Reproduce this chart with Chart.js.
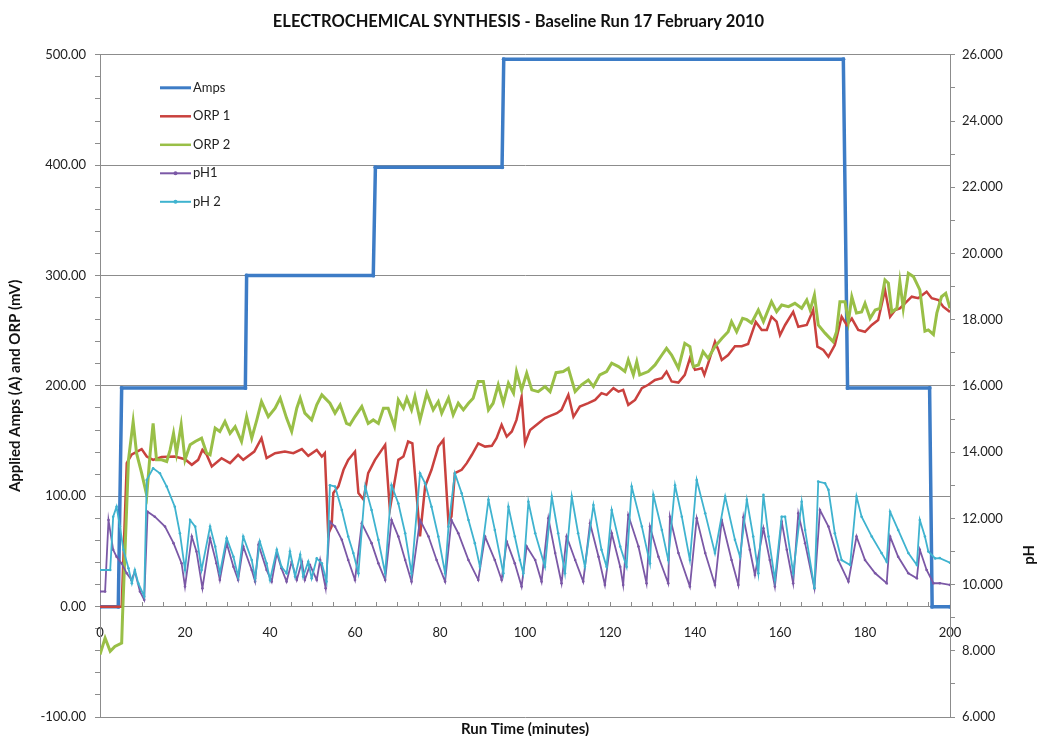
<!DOCTYPE html>
<html>
<head>
<meta charset="utf-8">
<title>Electrochemical Synthesis - Baseline Run</title>
<script src="https://cdn.jsdelivr.net/npm/chart.js@4.4.1/dist/chart.umd.min.js"></script>
<style>
  html, body { margin: 0; padding: 0; background: #fff; }
</style>
</head>
<body>
<canvas id="runChart" width="1037" height="736"></canvas>
<script>
const ampsTime  = [0, 4.3, 5.1, 34.2, 34.5, 64.3, 64.8, 94.6, 95.0, 174.9, 175.9, 195.2, 195.8, 200];
const ampsValue = [0, 0, 198, 198, 300, 300, 398, 398, 496, 496, 198, 198, 0, 0];

const orp1Time = [0, 5.1, 6.3, 7.4, 9.8, 11.0, 12.5, 14.5, 17.6, 20.0, 21.6, 23.1, 24.1, 25.1, 26.3, 28.6, 30.6, 32.5, 33.7,
  36.3, 38.0, 39.2, 41.2, 43.5, 45.5, 47.5, 49.0, 51.0, 52.2, 52.9, 53.7, 54.5, 54.9, 56.1, 57.3, 58.4, 60.0, 60.8, 62.0,
  63.1, 64.7, 67.1, 68.2, 69.0, 70.2, 71.4, 72.5, 73.5, 75.3, 76.5, 78.0, 79.6, 80.8, 82.0, 82.7, 83.5, 85.1, 86.3, 87.5,
  89.0, 90.6, 92.2, 93.3, 94.5, 95.7, 96.9, 98.0, 99.2, 100.0, 101.2, 103.1, 104.7, 105.5, 107.5, 108.6, 110.2, 111.4,
  112.9, 114.9, 116.5, 118.0, 119.2, 120.8, 122.0, 123.1, 124.3, 125.9, 127.5, 129.0, 130.6, 132.2, 133.3, 134.5, 136.1,
  137.6, 138.8, 140.0, 141.6, 142.2, 143.1, 144.7, 145.5, 146.3, 147.8, 149.4, 151.0, 152.5, 154.3, 155.7, 156.9, 158.0,
  159.2, 160.0, 161.2, 163.1, 164.3, 166.3, 167.8, 168.8, 170.2, 171.4, 172.9, 174.5, 175.7, 176.9, 178.4, 180.0, 181.6,
  183.1, 184.7, 185.9, 187.1, 188.2, 189.4, 191.0, 192.5, 194.5, 195.7, 197.3, 198.4, 200];
const orp1Value = [0, 0, 130, 137.6, 142.7, 136, 133, 135.5, 136, 133.6, 128.5, 133, 142, 137.6, 127, 134.5, 130, 137.6, 133,
  140.5, 152.6, 134.5, 139, 140.5, 139, 142.7, 136.7, 142, 136, 139, 66, 72.7, 103, 109, 124, 133, 140.5, 103, 97,
  121, 133, 146.6, 88, 106, 133, 136, 149.6, 148, 63.6, 109, 124, 145, 151, 75.7, 81.7, 121, 124, 130, 137.6,
  148, 145, 145.7, 152.6, 164.7, 154, 158.7, 169.2, 190, 148, 160, 166, 170.8, 172.2, 175.3, 178.3, 191.9, 172,
  181.3, 184.3, 187.3, 193.4, 191.9, 198, 194.8, 196.4, 182.8, 187.3, 198, 201, 205.4, 207, 213, 204, 203,
  210, 225, 214.5, 216, 210, 220.5, 240, 232.6, 223.5, 228, 236, 236, 238, 258, 250.7, 250.7, 262.7,
  258.2, 246, 255.2, 267, 253.6, 255.2, 268.8, 235.6, 232.6, 226.5, 237, 262.7, 255.2, 261, 250.7, 249, 255.2,
  259.7, 287, 262.7, 268.8, 270.3, 274.8, 280.8, 279.4, 285.3, 279.4, 277.8, 271.8, 267];

const orp2Time = [0, 1.2, 2.4, 3.5, 5.1, 5.3, 6.7, 7.8, 8.6, 9.8, 11.0, 11.8, 12.5, 13.3, 14.5, 15.7, 16.5, 17.3, 18.0,
  19.1, 20.0, 21.2, 22.4, 23.9, 25.1, 25.9, 27.1, 28.2, 29.4, 30.6, 31.8, 33.3, 34.5, 35.7, 36.9, 38.0, 39.6, 41.2, 42.4,
  43.9, 45.1, 46.3, 47.1, 48.2, 49.8, 51.0, 52.2, 54.1, 55.3, 56.5, 58.0, 58.8, 60.0, 61.6, 63.1, 64.3, 65.5, 66.7, 67.8,
  69.3, 70.2, 71.4, 72.2, 73.3, 74.1, 75.3, 76.9, 78.4, 79.6, 80.4, 82.0, 83.1, 84.3, 85.5, 86.7, 87.8, 89.0, 90.2, 91.4,
  92.5, 93.7, 94.9, 96.1, 97.3, 98.0, 99.2, 100.4, 101.6, 103.1, 104.7, 105.9, 107.3, 109.0, 110.2, 111.8, 113.3, 114.9,
  116.1, 117.6, 119.2, 120.4, 122.0, 123.5, 124.3, 125.5, 126.3, 127.0, 129.0, 130.6, 132.2, 133.3, 134.5, 136.1, 137.6,
  138.8, 139.6, 140.8, 141.9, 143.1, 144.7, 146.3, 147.8, 148.6, 149.8, 151.2, 152.2, 153.3, 154.9, 156.1, 158.0, 159.2,
  160.4, 162.0, 163.5, 165.1, 166.3, 167.1, 168.1, 169.0, 170.6, 172.5, 173.3, 174.1, 175.3, 176.1, 176.9, 178.0, 179.2,
  180.0, 181.2, 182.4, 183.5, 184.7, 185.5, 186.3, 187.5, 188.2, 189.0, 190.2, 191.4, 192.9, 194.1, 194.9, 196.1, 196.9,
  198.0, 199.0, 200];
const orp2Value = [-43.4, -28.4, -40.4, -36, -33, -8.7, 133, 167.7, 139, 121, 101, 139, 166, 133, 133, 131.5, 142, 157, 139,
  164.7, 133, 146.6, 149.6, 152.6, 139, 137.6, 161.7, 158.7, 167.7, 157, 163, 149.6, 172.2, 152.6, 169.2, 185.8, 172.2, 179.8, 188.9,
  170.8, 158.7, 179.8, 188.9, 175.3, 169.2, 182.8, 191.9, 184.3, 175.3, 182.8, 166, 164.7, 172.2, 181.3, 166, 169.2, 166, 179.8, 179.8,
  163.2, 187.3, 179.8, 188.9, 178.3, 190.3, 169.2, 193.4, 178.3, 185.8, 175.3, 188.9, 173.8, 184.3, 178.3, 184.3, 188.9, 203.9, 203.9, 178.3,
  184.3, 201, 184.3, 202.4, 193.4, 213, 196.4, 211.5, 196.4, 194.8, 199.4, 194.8, 212, 213, 216, 194.8, 201, 205.4,
  199.4, 210, 213, 220.5, 217.5, 213, 223.5, 210, 222, 210, 213, 219, 228, 234, 228, 216, 238.6,
  235.6, 217.5, 219, 231, 225, 235.6, 243, 249, 258.2, 249, 261.2, 260, 257, 268.8, 258.2, 276.3, 267.2,
  273.3, 271.8, 274.8, 270.3, 277.8, 268.8, 282.4, 255.2, 247.8, 240.1, 249, 276.3, 276.3, 258.2, 280.8, 266, 267,
  274.8, 261.2, 268.8, 270.3, 296, 293, 267, 270.3, 294.4, 270.3, 302, 299, 287, 249.5, 250.7, 246.6, 265.9,
  280.8, 283.9, 270.3];

const ph1Time = [0, 1.2, 2.0, 3.1, 3.9, 5.1, 6.3, 7.4, 8.2, 9.4, 10.4, 11.2, 12.9, 15.3, 17.3, 19.2, 20.0, 21.6, 22.7,
  24.1, 25.9, 27.4, 28.2, 29.8, 31.4, 32.5, 33.7, 35.7, 36.5, 37.3, 39.2, 40.4, 41.6, 42.7, 43.9, 45.1, 46.3, 47.5, 48.2,
  49.4, 51.0, 51.8, 53.1, 54.1, 55.3, 56.9, 58.4, 60.0, 61.6, 63.9, 65.5, 67.1, 68.6, 70.2, 71.8, 73.3, 75.3, 77.3, 79.2,
  81.2, 82.7, 84.3, 86.7, 89.0, 90.6, 92.9, 94.5, 95.7, 97.6, 99.2, 100.4, 102.4, 103.9, 105.5, 107.1, 108.6, 109.8, 111.8,
  113.7, 115.3, 117.3, 118.8, 120.4, 122.4, 123.1, 124.3, 126.7, 128.6, 129.4, 131.4, 133.7, 134.1, 136.1, 138.8, 140.4,
  142.4, 144.7, 146.3, 148.6, 150.2, 151.4, 152.9, 154.1, 156.1, 157.6, 158.8, 160.4, 161.6, 163.1, 164.3, 165.9, 168.1,
  169.4, 171.4, 173.7, 176.1, 178.0, 180.0, 182.4, 185.1, 185.9, 187.8, 190.2, 192.2, 192.9, 194.5, 196.1, 197.6, 200];
const ph1Value = [9.79, 9.79, 11.95, 11.05, 10.84, 10.64, 10.34, 10.14, 10.39, 9.79, 9.54, 12.2, 12.05, 11.75, 11.25, 10.64, 9.94, 11.45, 11.0,
  9.89, 11.4, 10.64, 10.14, 11.25, 10.54, 10.14, 11.15, 10.44, 10.09, 11.2, 10.44, 10.09, 10.95, 10.49, 10.09, 10.69, 10.14, 10.69, 10.14,
  10.59, 10.14, 10.74, 9.89, 11.9, 11.75, 11.35, 10.74, 10.14, 11.85, 11.25, 10.64, 10.14, 11.95, 11.45, 10.74, 10.09, 11.95, 11.45, 10.74,
  10.09, 11.95, 11.55, 10.74, 10.14, 11.45, 10.74, 10.14, 11.3, 10.64, 9.94, 11.15, 10.74, 10.09, 12.0, 10.95, 10.04, 11.45, 10.74,
  10.09, 11.85, 10.84, 9.99, 11.55, 10.54, 9.99, 12.1, 11.15, 10.04, 11.75, 10.84, 10.04, 12.05, 10.95, 9.94, 12.0,
  10.95, 9.99, 11.95, 10.74, 9.99, 12.03, 11.05, 10.29, 11.7, 10.74, 9.94, 11.9, 11.05, 10.04, 12.15, 11.25, 9.89,
  12.25, 11.75, 10.74, 10.09, 11.45, 10.74, 10.34, 10.04, 11.45, 10.84, 10.34, 10.19, 11.05, 10.44, 10.04, 10.04, 9.99];

const ph2Time = [0, 2.4, 3.1, 3.9, 4.7, 5.5, 6.7, 7.5, 8.2, 9.0, 10.4, 11.0, 12.5, 14.1, 15.7, 17.6, 18.8, 20.0, 21.2,
  22.4, 23.9, 25.9, 27.1, 28.2, 29.8, 31.4, 32.5, 33.7, 35.7, 36.5, 37.6, 39.2, 40.0, 41.6, 42.7, 43.9, 44.7, 45.9, 47.1,
  47.8, 49.0, 49.8, 51.0, 52.2, 53.3, 54.1, 55.3, 56.9, 58.4, 59.6, 60.8, 62.4, 63.9, 65.5, 67.1, 68.6, 70.2, 71.8, 73.3,
  75.3, 76.5, 78.0, 79.6, 81.2, 82.0, 83.5, 85.1, 86.7, 88.2, 89.4, 91.4, 92.9, 94.9, 96.1, 97.6, 98.8, 99.6, 100.8, 102.4,
  104.7, 106.3, 107.8, 109.4, 111.0, 112.5, 114.1, 116.1, 118.0, 119.2, 120.4, 122.4, 123.9, 125.1, 127.5, 129.4, 130.2,
  132.2, 133.7, 135.3, 136.9, 138.8, 140.4, 142.4, 144.7, 147.1, 149.4, 150.6, 152.2, 153.7, 154.9, 156.1, 157.3, 158.8,
  160.4, 161.2, 163.1, 165.1, 165.9, 168.1, 169.0, 170.6, 171.4, 172.9, 174.5, 176.5, 178.0, 179.2, 181.6, 183.9, 185.1,
  185.9, 187.8, 190.2, 192.2, 192.9, 194.1, 194.9, 196.5, 197.6, 200];
const ph2Value = [10.44, 10.44, 12.05, 12.35, 11.75, 11.05, 10.49, 10.04, 10.44, 10.04, 9.64, 13.16, 13.51, 13.36, 12.96, 12.35, 11.55, 10.44, 11.95,
  11.75, 10.44, 11.75, 11.15, 10.34, 11.4, 10.84, 10.24, 11.45, 10.74, 10.19, 11.3, 10.64, 10.14, 11.05, 10.54, 10.34, 11.0, 10.24, 10.9,
  10.24, 10.69, 10.19, 10.79, 10.64, 10.09, 13.0, 12.96, 12.25, 11.45, 10.95, 10.34, 12.96, 12.25, 11.35, 10.34, 13.0, 12.45, 11.55, 10.34,
  13.36, 13.06, 12.35, 11.45, 10.34, 11.75, 13.36, 12.76, 11.95, 11.25, 10.54, 12.56, 11.65, 10.34, 12.35, 11.45, 10.74, 10.34, 12.5, 11.55,
  10.54, 12.66, 11.55, 10.34, 12.66, 11.55, 10.54, 12.4, 11.05, 10.54, 12.25, 11.15, 10.54, 12.96, 11.75, 10.64, 12.71,
  11.65, 10.74, 13.0, 12.05, 10.74, 13.16, 12.15, 10.95, 12.66, 11.35, 10.84, 12.56, 11.45, 10.34, 12.71, 11.45, 10.14,
  12.05, 12.05, 10.34, 12.5, 11.65, 9.89, 13.11, 13.06, 12.86, 11.55, 10.74, 10.59, 12.66, 12.05, 11.45, 10.95, 10.69,
  12.2, 11.65, 10.95, 10.59, 11.95, 11.45, 11.0, 10.79, 10.8, 10.66];

// left axis runs -100..500 (amps / mV), right axis 6..26 (pH)
const leftRange = [-100, 500];
const phRange = [6, 26];
const timeRange = [0, 200];

const fontFamily = "Lato, 'Open Sans', 'Liberation Sans', sans-serif";
const axisGrey = '#8c8c8c';

function toPoints(times, values) {
    return times.map((t, i) => ({ x: t, y: values[i] }));
}

// Legend sits inside the plot area, top-left, like the spreadsheet original
const insideLegend = {
    id: 'insideLegend',
    afterDraw(chart) {
        const { ctx, chartArea } = chart;
        const x0 = chartArea.left + 60;
        let y = chartArea.top + 33;
        ctx.save();
        ctx.font = '13px ' + fontFamily;
        ctx.textBaseline = 'middle';
        chart.data.datasets.forEach(ds => {
            ctx.strokeStyle = ds.borderColor;
            ctx.lineWidth = ds.legendWidth;
            ctx.beginPath();
            ctx.moveTo(x0, y);
            ctx.lineTo(x0 + 31, y);
            ctx.stroke();
            if (ds.yAxisID === 'pH') {
                ctx.fillStyle = ds.borderColor;
                ctx.beginPath();
                ctx.arc(x0 + 15.5, y, 2, 0, Math.PI * 2);
                ctx.fill();
            }
            ctx.fillStyle = '#222';
            ctx.fillText(ds.label, x0 + 33, y);
            y += 28.5;
        });
        ctx.restore();
    }
};

// Bottom axis caption and the right-hand "pH" caption
const captions = {
    id: 'captions',
    afterDraw(chart) {
        const { ctx, chartArea } = chart;
        ctx.save();
        ctx.font = 'bold 15px ' + fontFamily;
        ctx.fillStyle = '#111';
        ctx.textAlign = 'center';
        ctx.textBaseline = 'middle';
        ctx.fillText('Run Time (minutes)', (chartArea.left + chartArea.right) / 2, chartArea.bottom + 12);
        ctx.translate(chart.width - 8, chart.scales.pH.getPixelForValue(10.9));
        ctx.rotate(-Math.PI / 2);
        ctx.fillText('pH', 0, 0);
        ctx.restore();
    }
};

Chart.defaults.font.family = fontFamily;
Chart.defaults.color = '#222';

const ctx = document.getElementById('runChart').getContext('2d');
const runChart = new Chart(ctx, {
    type: 'line',
    data: {
        datasets: [
            {
                label: 'Amps', data: toPoints(ampsTime, ampsValue), yAxisID: 'y',
                borderColor: '#3d7cc6', backgroundColor: '#3d7cc6', borderWidth: 3.5, legendWidth: 3,
                pointRadius: 2, pointBorderWidth: 0, order: 5
            },
            {
                label: 'ORP 1', data: toPoints(orp1Time, orp1Value), yAxisID: 'y',
                borderColor: '#c9413e', borderWidth: 2.5, legendWidth: 2.5, pointRadius: 0, order: 4
            },
            {
                label: 'ORP 2', data: toPoints(orp2Time, orp2Value), yAxisID: 'y',
                borderColor: '#99bf47', borderWidth: 3, legendWidth: 2.5, pointRadius: 0, order: 3
            },
            {
                label: 'pH1', data: toPoints(ph1Time, ph1Value), yAxisID: 'pH',
                borderColor: '#7b58a6', backgroundColor: '#7b58a6', borderWidth: 1.8, legendWidth: 2,
                pointRadius: 1.3, pointBorderWidth: 0, order: 2
            },
            {
                label: 'pH 2', data: toPoints(ph2Time, ph2Value), yAxisID: 'pH',
                borderColor: '#3fb3cf', backgroundColor: '#3fb3cf', borderWidth: 1.8, legendWidth: 2,
                pointRadius: 1.3, pointBorderWidth: 0, order: 1
            }
        ]
    },
    options: {
        responsive: false,
        animation: false,
        events: [],
        layout: { padding: { left: 0, right: 0, bottom: 19 } },
        elements: { line: { tension: 0 } },
        plugins: {
            legend: { display: false },
            tooltip: { enabled: false },
            title: {
                display: true,
                text: 'ELECTROCHEMICAL SYNTHESIS - Baseline Run 17 February 2010',
                color: '#111',
                font: { size: 16.5, weight: 'bold' },
                lineHeight: 1.2,
                padding: { top: 12, bottom: 23 }
            }
        },
        scales: {
            x: {
                type: 'linear',
                min: timeRange[0],
                max: timeRange[1],
                position: { y: 0 },
                ticks: {
                    stepSize: 5,
                    autoSkip: false,
                    maxRotation: 0,
                    padding: 23,
                    font: { size: 13 },
                    callback: v => (v % 20 === 0 ? v : '')
                },
                grid: { drawOnChartArea: false, color: axisGrey, tickLength: -5 },
                border: { color: axisGrey }
            },
            y: {
                type: 'linear',
                position: 'left',
                min: leftRange[0],
                max: leftRange[1],
                afterFit: scale => { scale.width = 100; },
                ticks: {
                    stepSize: 20,
                    autoSkip: false,
                    padding: 9,
                    font: { size: 13 },
                    callback: v => (v % 100 === 0 ? v.toFixed(2) : '')
                },
                grid: {
                    color: c => (c.tick && c.tick.value % 100 === 0 ? axisGrey : 'rgba(0,0,0,0)'),
                    tickColor: axisGrey,
                    tickLength: 5
                },
                border: { color: axisGrey },
                title: {
                    display: true,
                    text: 'Applied Amps (A) and ORP (mV)',
                    color: '#111',
                    font: { size: 15, weight: 'bold' },
                    padding: { top: 6 }
                }
            },
            pH: {
                type: 'linear',
                position: 'right',
                min: phRange[0],
                max: phRange[1],
                afterFit: scale => { scale.width = 87; },
                ticks: {
                    stepSize: 1,
                    autoSkip: false,
                    padding: 7,
                    font: { size: 13 },
                    callback: v => (v % 2 === 0 ? v.toFixed(3) : '')
                },
                grid: { drawOnChartArea: false, color: axisGrey, tickLength: 5 },
                border: { color: axisGrey }
            }
        }
    },
    plugins: [insideLegend, captions]
});
</script>
</body>
</html>
